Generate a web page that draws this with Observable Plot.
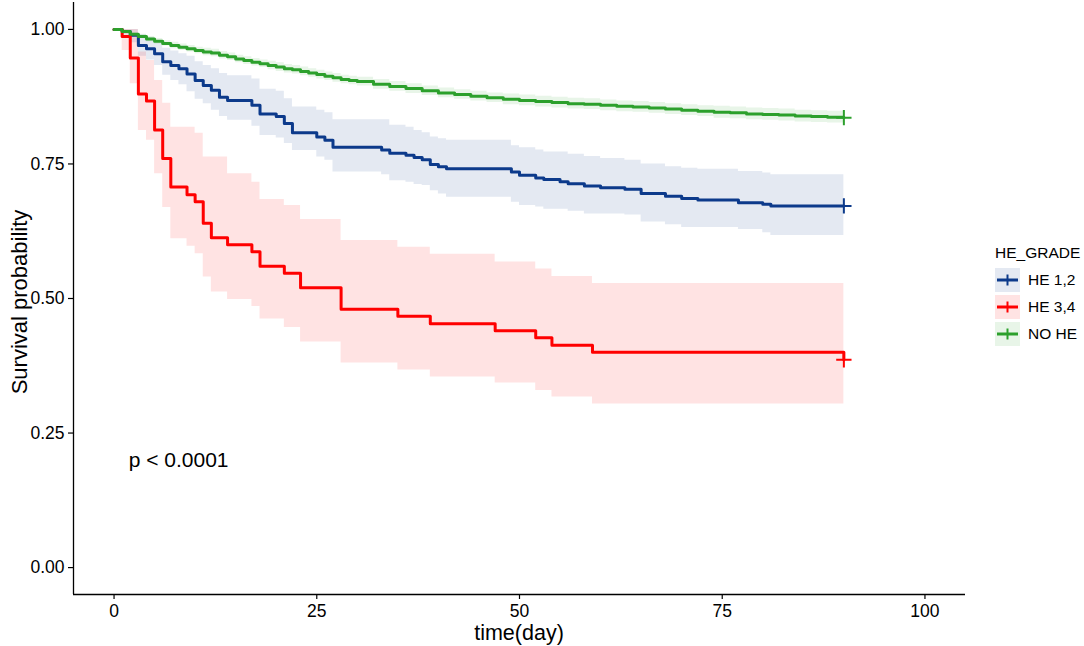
<!DOCTYPE html>
<html>
<head>
<meta charset="utf-8">
<script src="https://cdn.jsdelivr.net/npm/d3@7"></script>
<script src="https://cdn.jsdelivr.net/npm/@observablehq/plot@0.6"></script>
<style>
  html, body { margin: 0; padding: 0; background: #fff; }
  #wrap { position: relative; width: 1084px; height: 646px; font-family: "Liberation Sans", Arial, sans-serif; color: #000; }
  .ytitle { position: absolute; left: 20px; top: 302px; transform: translate(-50%, -50%) rotate(-90deg); font-size: 22px; white-space: nowrap; }
  .xtitle { position: absolute; left: 519px; top: 633px; transform: translate(-50%, -50%); font-size: 21.5px; white-space: nowrap; }
  #legend { position: absolute; left: 995px; top: 244px; font-size: 15.5px; }
  #legend .ttl { margin-bottom: 5px; }
  #legend .row { display: flex; align-items: center; height: 26.7px; }
  #legend .row svg { margin-right: 8px; }
</style>
</head>
<body>
<div id="wrap"></div>
<script>
// ---- data ----
const groups = ["HE 1,2", "HE 3,4", "NO HE"];
const colors = ["#0c3a8b", "#ff0000", "#2ca02c"];

const time_he12 = [0,1,2,3,4,5,6,7,8,9,10,11,12,13,14,17,18,20,21,22,25,26,27,33,34,36,37,38,39,40,41,49,50,52,53,55,56,58,60,63,65,68,70,72,77,80,81,90];
const surv_he12 = [1.000,0.996,0.989,0.970,0.964,0.955,0.940,0.933,0.927,0.917,
  0.905,0.896,0.887,0.874,0.868,
  0.859,0.843,0.838,0.825,0.808,0.800,0.794,0.781,
  0.776,0.770,0.766,0.762,0.758,0.749,0.745,0.741,
  0.735,0.729,0.724,0.721,0.717,0.713,0.709,0.706,
  0.703,0.695,0.690,0.686,0.683,0.678,0.675,0.672,
  0.672];
const upper_he12 = [1.000,1.000,1.000,0.990,0.985,0.975,0.965,0.960,0.955,0.950,
  0.940,0.933,0.927,0.918,0.914,
  0.908,0.889,0.885,0.871,0.856,0.850,0.845,0.832,
  0.832,0.822,0.818,0.812,0.808,0.800,0.797,0.794,
  0.784,0.780,0.776,0.772,0.772,0.768,0.764,0.760,
  0.757,0.750,0.745,0.742,0.740,0.736,0.733,0.730,
  0.730];
const lower_he12 = [1.000,0.990,0.975,0.950,0.943,0.933,0.915,0.905,0.897,0.884,
  0.870,0.862,0.850,0.838,0.831,
  0.820,0.803,0.798,0.788,0.775,0.763,0.757,0.735,
  0.730,0.719,0.716,0.712,0.710,0.700,0.694,0.688,
  0.679,0.673,0.670,0.666,0.666,0.662,0.657,0.657,
  0.655,0.642,0.637,0.632,0.632,0.628,0.622,0.617,
  0.617];

const time_he34 = [0,1,2,3,4,5,6,7,9,10,11,12,14,17,18,21,23,28,35,39,47,52,54,59,90];
const surv_he34 = [1.000,0.987,0.947,0.880,0.867,0.813,0.760,0.707,0.693,0.680,0.640,0.613,0.600,0.587,0.560,0.547,0.520,0.480,0.467,0.453,0.440,0.427,0.413,0.400,0.386];
const lower_he34 = [1.000,0.961,0.899,0.812,0.794,0.732,0.669,0.611,0.597,0.583,0.540,0.512,0.498,0.485,0.462,0.446,0.419,0.380,0.367,0.354,0.343,0.329,0.317,0.304,0.304];
const upper_he34 = [1.000,1.000,1.000,0.958,0.942,0.905,0.863,0.818,0.818,0.807,0.763,0.763,0.732,0.716,0.684,0.673,0.647,0.608,0.595,0.582,0.568,0.555,0.541,0.528,0.528];

const time_nohe = [0,1,2,3,4,5,6,7,8,9,10,11,12,13,14,15,16,17,18,19,20,21,22,23,24,25,26,27,28,29,30,
  32,34,36,38,40,42,44,46,48,50,52,54,56,58,60,62,64,66,68,70,72,74,76,78,80,82,84,86,88,90];
const surv_nohe = [1.000,0.996,0.991,0.987,0.982,0.978,0.974,0.970,0.967,0.964,
  0.961,0.958,0.956,0.952,0.949,0.945,0.942,0.939,0.936,0.933,
  0.930,0.927,0.925,0.922,0.919,0.916,0.913,0.910,0.907,0.905,
  0.903,
  0.898,0.894,0.890,0.886,0.882,0.879,0.876,0.873,0.870,0.868,
  0.866,0.864,0.862,0.861,0.859,0.857,0.856,0.854,0.852,0.850,
  0.848,0.846,0.845,0.843,0.842,0.841,0.839,0.838,0.837,0.836];
const upper_nohe = [1.000,0.998,0.994,0.991,0.987,0.983,0.979,0.976,0.973,0.970,
  0.967,0.965,0.963,0.959,0.956,0.952,0.949,0.946,0.943,0.941,
  0.938,0.935,0.933,0.930,0.927,0.924,0.921,0.918,0.915,0.913,
  0.911,
  0.907,0.903,0.899,0.895,0.891,0.888,0.885,0.882,0.880,0.878,
  0.876,0.874,0.872,0.871,0.869,0.867,0.866,0.864,0.862,0.860,
  0.858,0.857,0.856,0.854,0.853,0.852,0.850,0.849,0.848,0.847];
const lower_nohe = [1.000,0.994,0.988,0.983,0.977,0.973,0.969,0.964,0.961,0.958,
  0.955,0.951,0.949,0.945,0.942,0.938,0.935,0.932,0.929,0.925,
  0.922,0.919,0.917,0.914,0.911,0.908,0.905,0.902,0.899,0.897,
  0.895,
  0.889,0.885,0.881,0.877,0.873,0.870,0.867,0.864,0.860,0.858,
  0.856,0.854,0.852,0.851,0.849,0.847,0.846,0.844,0.842,0.840,
  0.838,0.835,0.834,0.832,0.831,0.830,0.828,0.827,0.826,0.825];

const xTicks = [0, 25, 50, 75, 100];
const yTicks = [0, 0.25, 0.5, 0.75, 1];
const pvalText = "p < 0.0001";

// ---- build table ----
const series = [
  {group: groups[0], time: time_he12, surv: surv_he12, lower: lower_he12, upper: upper_he12},
  {group: groups[1], time: time_he34, surv: surv_he34, lower: lower_he34, upper: upper_he34},
  {group: groups[2], time: time_nohe, surv: surv_nohe, lower: lower_nohe, upper: upper_nohe}
];
const rows = series.flatMap(s => s.time.map((t, i) => ({group: s.group, time: t, surv: s.surv[i], lower: s.lower[i], upper: s.upper[i]})));
const lastRows = series.map(s => ({group: s.group, time: s.time[s.time.length - 1], surv: s.surv[s.surv.length - 1]}));

const xDomain = [-5, 105];
const yDomain = [-0.05, 1.05];

const chart = Plot.plot({
  width: 1084,
  height: 646,
  marginTop: 2,
  marginBottom: 52,
  marginLeft: 73,
  marginRight: 119,
  style: {fontFamily: '"Liberation Sans", Arial, sans-serif', fontSize: "17.5px", color: "#000", background: "#fff"},
  x: {domain: xDomain},
  y: {domain: yDomain},
  color: {domain: groups, range: colors},
  marks: [
    Plot.areaY(rows, {x: "time", y1: "lower", y2: "upper", fill: "group", fillOpacity: 0.11, curve: "step-after"}),
    Plot.lineY(rows, {x: "time", y: "surv", stroke: "group", z: "group", strokeWidth: 3, curve: "step-after"}),
    Plot.dot(lastRows, {x: "time", y: "surv", stroke: "group", symbol: "plus", r: 5, strokeWidth: 2}),
    Plot.text([pvalText], {x: 1.8, y: 0.2, text: d => d, textAnchor: "start", fontSize: 21, fill: "#000"}),
    Plot.axisX({ticks: xTicks, tickSize: 5, tickPadding: 5, label: null, stroke: "#000", strokeWidth: 1.2, fill: "#000"}),
    Plot.axisY({ticks: yTicks, tickFormat: d3.format(".2f"), tickSize: 5, tickPadding: 4, label: null, stroke: "#000", strokeWidth: 1.2, fill: "#000"}),
    Plot.ruleX([xDomain[0]], {stroke: "#000", strokeWidth: 1.3}),
    Plot.ruleY([yDomain[0]], {stroke: "#000", strokeWidth: 1.3})
  ]
});

const wrap = document.getElementById("wrap");
wrap.appendChild(chart);

const yt = document.createElement("div");
yt.className = "ytitle"; yt.textContent = "Survival probability";
wrap.appendChild(yt);
const xt = document.createElement("div");
xt.className = "xtitle"; xt.textContent = "time(day)";
wrap.appendChild(xt);

// legend
const leg = document.createElement("div");
leg.id = "legend";
const ttl = document.createElement("div");
ttl.className = "ttl"; ttl.textContent = "HE_GRADE";
leg.appendChild(ttl);
groups.forEach((g, i) => {
  const row = document.createElement("div");
  row.className = "row";
  const c = d3.color(colors[i]);
  const bg = `rgba(${c.r},${c.g},${c.b},0.11)`;
  row.innerHTML = `<svg width="25" height="24"><rect width="25" height="24" fill="${bg}"/>` +
    `<line x1="2" x2="23" y1="12" y2="12" stroke="${colors[i]}" stroke-width="3"/>` +
    `<line x1="12.5" x2="12.5" y1="6.5" y2="17.5" stroke="${colors[i]}" stroke-width="2"/></svg>` +
    `<span>${g}</span>`;
  leg.appendChild(row);
});
wrap.appendChild(leg);
</script>
</body>
</html>
